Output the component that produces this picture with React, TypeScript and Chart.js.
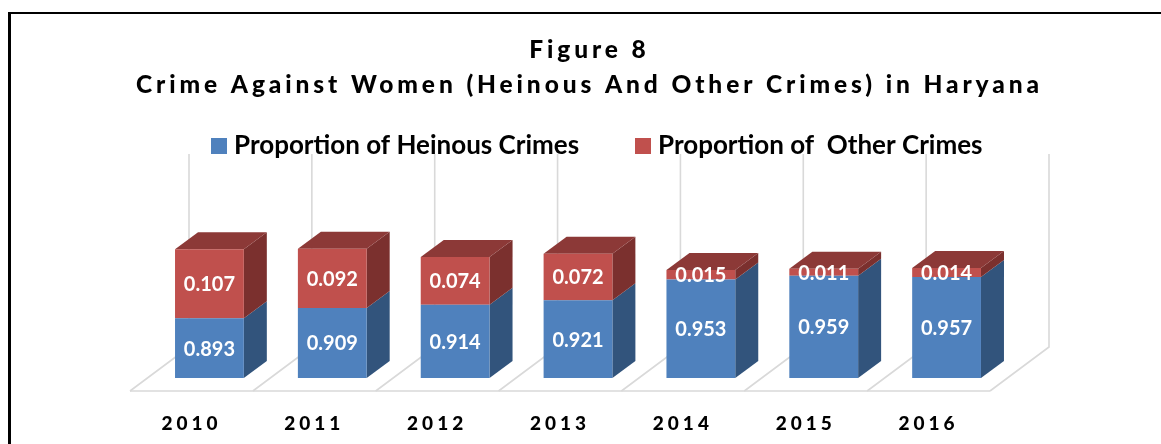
import React, { useEffect, useRef } from "react";
import { Chart, registerables } from "chart.js";

Chart.register(...registerables);

const years = ["2010", "2011", "2012", "2013", "2014", "2015", "2016"];
const heinous = [0.893, 0.909, 0.914, 0.921, 0.953, 0.959, 0.957];
const other = [0.107, 0.092, 0.074, 0.072, 0.015, 0.011, 0.014];
const titleLines = ["Figure 8", "Crime Against Women (Heinous And Other Crimes) in Haryana"];

const FONT = "Lato, Carlito, 'Open Sans', sans-serif";
const FRONT = { heinous: "#4f81bd", other: "#c0504d" };
const SIDE = { heinous: "#32547c", other: "#7b302e" };
const TOP = "#8c3937";
const GRID = "#d9d9d9";

// 3D projection offsets, in pixels
const BAR_DX = 23;
const BAR_DY = 17;
const FLOOR_DX = 59;
const FLOOR_DY = 44;
const FLOOR_FRONT_X = 18;
const FLOOR_FRONT_Y = 13;

const box3d = {
  id: "box3d",
  beforeDraw(chart: any) {
    const { ctx, chartArea, scales } = chart;
    if (!chart.$wrapped) {
      chart.$wrapped = true;
      const title = chart.titleBlock;
      const drawTitle = title.draw.bind(title);
      title.draw = () => {
        ctx.save();
        ctx.letterSpacing = "3.9px";
        title.left = 0;
        title.right = chart.width;
        ctx.translate(9, 0);
        drawTitle();
        ctx.restore();
      };
      const x = chart.scales.x;
      const drawLabels = x.drawLabels.bind(x);
      x.drawLabels = (area: any) => {
        ctx.save();
        ctx.letterSpacing = "4px";
        drawLabels(area);
        ctx.restore();
      };
      const legend = chart.legend;
      const legendX = [211, 635];
      legend.draw = () => {
        ctx.save();
        legend.legendItems.forEach((item: any, i: number) => {
          ctx.fillStyle = item.fillStyle;
          ctx.fillRect(legendX[i], 138, 16, 16);
          ctx.fillStyle = "#000";
          ctx.font = `bold 26px ${FONT}`;
          ctx.textBaseline = "middle";
          ctx.textAlign = "left";
          ctx.fillText(item.text, legendX[i] + 23, 146);
        });
        ctx.restore();
      };
    }
    const band = (chartArea.right - chartArea.left) / years.length;
    const fx = chartArea.left - FLOOR_FRONT_X;
    const fy = chartArea.bottom + FLOOR_FRONT_Y;
    const wallTop = scales.y.top - (FLOOR_DY - FLOOR_FRONT_Y);
    ctx.save();
    ctx.strokeStyle = GRID;
    ctx.lineWidth = 1.6;
    for (let i = 0; i <= years.length; i++) {
      const x0 = fx + i * band;
      ctx.beginPath();
      ctx.moveTo(x0, fy);
      ctx.lineTo(x0 + FLOOR_DX, fy - FLOOR_DY);
      ctx.lineTo(x0 + FLOOR_DX, wallTop);
      ctx.stroke();
    }
    ctx.beginPath();
    ctx.moveTo(fx, fy);
    ctx.lineTo(fx + years.length * band, fy);
    ctx.stroke();
    ctx.restore();
  },
  beforeDatasetsDraw(chart: any) {
    const { ctx, chartArea } = chart;
    ctx.save();
    const poly = (pts: number[][], color: string) => {
      ctx.fillStyle = color;
      ctx.beginPath();
      pts.forEach(([a, b], k) => (k ? ctx.lineTo(a, b) : ctx.moveTo(a, b)));
      ctx.closePath();
      ctx.fill();
    };
    const keys: ("heinous" | "other")[] = ["heinous", "other"];
    keys.forEach((key, d) => {
      chart.getDatasetMeta(d).data.forEach((bar: any) => {
        const p = bar.getProps(["x", "y", "base", "width"], true);
        const base = Math.min(p.base, chartArea.bottom);
        const r = p.x + p.width / 2;
        poly(
          [
            [r, p.y],
            [r + BAR_DX, p.y - BAR_DY],
            [r + BAR_DX, base - BAR_DY],
            [r, base],
          ],
          SIDE[key]
        );
        if (d === 1) {
          const l = p.x - p.width / 2;
          poly(
            [
              [l, p.y],
              [l + BAR_DX, p.y - BAR_DY],
              [r + BAR_DX, p.y - BAR_DY],
              [r, p.y],
            ],
            TOP
          );
        }
      });
    });
    ctx.restore();
  },
  afterDatasetsDraw(chart: any) {
    const { ctx, chartArea } = chart;
    ctx.save();
    ctx.fillStyle = "#fff";
    ctx.font = `bold 20px ${FONT}`;
    ctx.textAlign = "center";
    ctx.textBaseline = "middle";
    chart.data.datasets.forEach((ds: any, d: number) => {
      chart.getDatasetMeta(d).data.forEach((bar: any, i: number) => {
        const p = bar.getProps(["x", "y", "base"], true);
        const base = Math.min(p.base, chartArea.bottom);
        ctx.fillText(ds.data[i].toFixed(3), p.x, (p.y + base) / 2 + 1);
      });
    });
    ctx.restore();
  },
};

export default function App() {
  const ref = useRef<HTMLCanvasElement>(null);
  useEffect(() => {
    const chart = new Chart(ref.current!, {
      type: "bar",
      plugins: [box3d],
      data: {
        labels: years,
        datasets: [
          { label: "Proportion of Heinous Crimes", data: heinous, backgroundColor: FRONT.heinous },
          { label: "Proportion of  Other Crimes", data: other, backgroundColor: FRONT.other },
        ],
      },
      options: {
        responsive: false,
        animation: false,
        events: [],
        barPercentage: 0.56,
        categoryPercentage: 1,
        layout: { padding: { left: 148, right: 153, top: 0, bottom: 11.4 } },
        plugins: {
          tooltip: { enabled: false },
          title: {
            display: true,
            text: titleLines,
            color: "#000",
            font: { family: FONT, size: 24.5, weight: "900", lineHeight: 35 / 24.5 },
            padding: { top: 33, bottom: 19 },
          },
          legend: {
            display: true,
            position: "top",
            labels: { font: { family: FONT, size: 24, weight: "bold" }, padding: 29 },
          },
        },
        scales: {
          x: {
            stacked: true,
            border: { display: false },
            grid: { display: false, drawTicks: false },
            afterFit: (s: any) => {
              s.height = 54.6;
            },
            ticks: {
              color: "#000",
              font: { family: FONT, size: 19, weight: "900" },
              padding: 34,
              labelOffset: -18,
              maxRotation: 0,
            },
          },
          y: { stacked: true, display: false, min: 0.8, max: 1.1 },
        },
      } as any,
    });
    return () => chart.destroy();
  }, []);
  return (
    <div style={{ position: "absolute", left: 0, top: 0, width: 1161, height: 444, overflow: "hidden", background: "#fff" }}>
      <div
        style={{
          position: "absolute",
          left: 8,
          top: 12,
          right: 0,
          bottom: 0,
          borderTop: "2px solid #000",
          borderLeft: "3px solid #000",
        }}
      />
      <canvas ref={ref} width={1161} height={444} style={{ position: "absolute", left: 0, top: 0, display: "block" }} />
    </div>
  );
}
